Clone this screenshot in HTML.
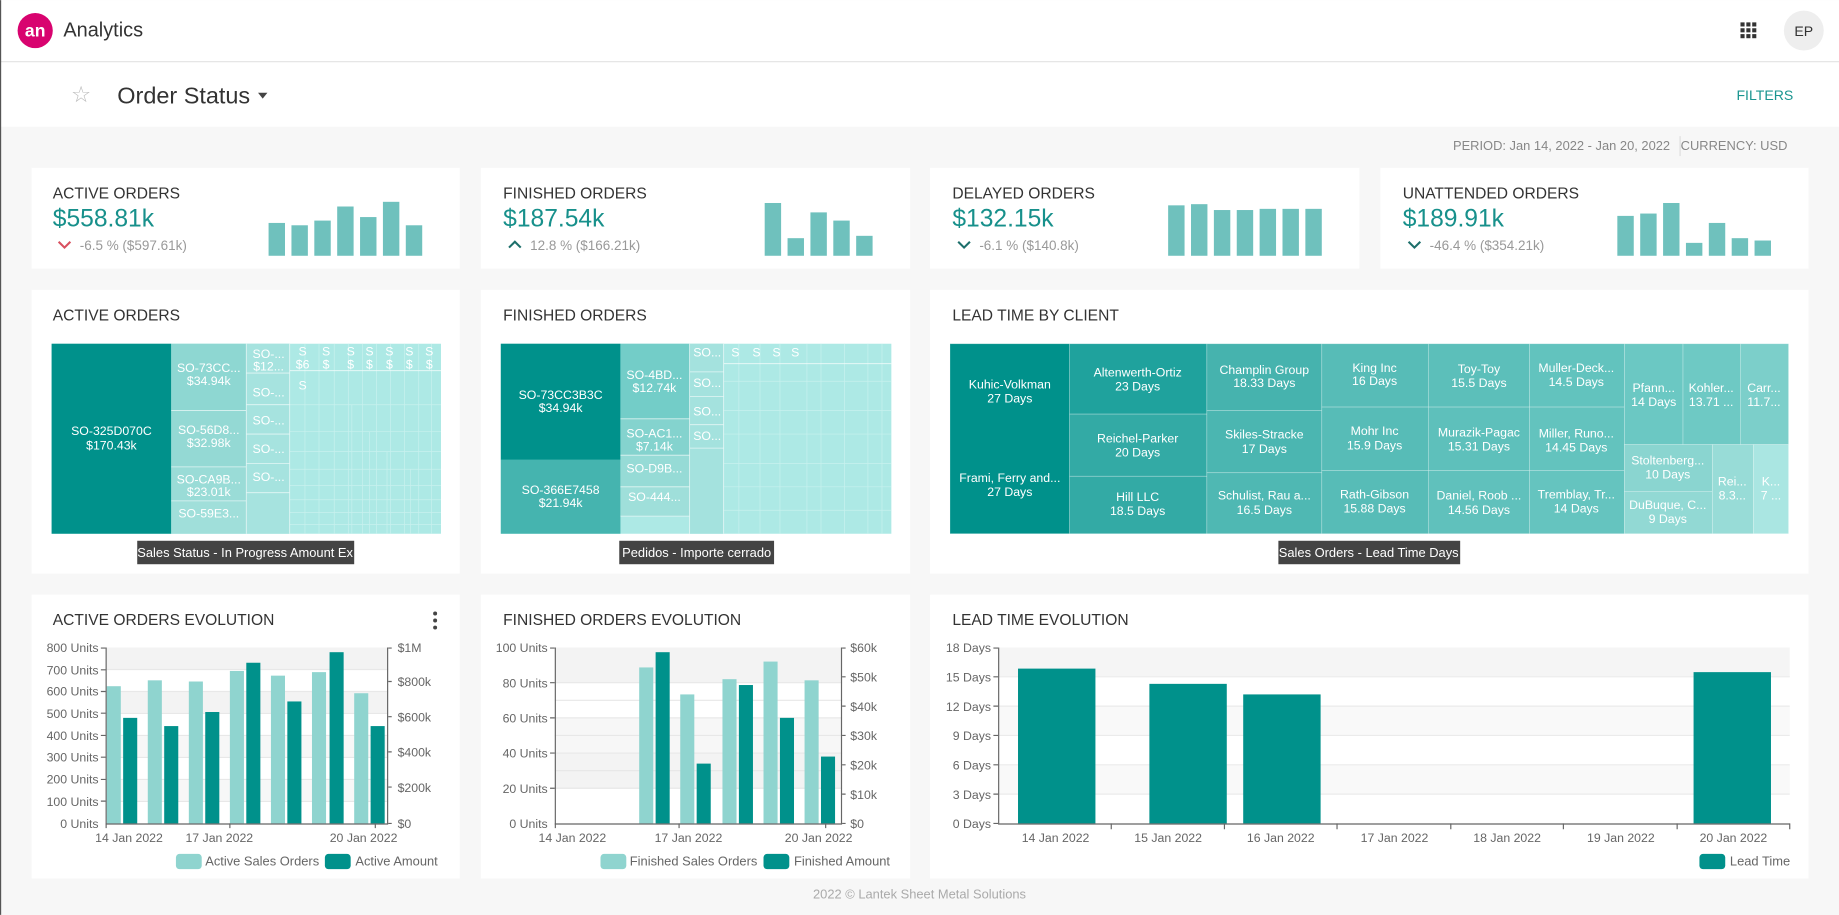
<!DOCTYPE html>
<html><head><meta charset="utf-8"><style>
html,body{margin:0;padding:0;background:#f7f7f7;overflow:hidden}
svg{display:block}
text{font-family:"Liberation Sans",sans-serif}
</style></head><body>
<svg width="1839" height="915" viewBox="0 0 1568 780" xmlns="http://www.w3.org/2000/svg">
<rect x="0" y="0" width="1568" height="780" fill="#f7f7f7"/>
<!-- header -->
<rect x="0" y="0" width="1568" height="108" fill="#fff"/>
<line x1="0" y1="52.5" x2="1568" y2="52.5" stroke="#e2e2e2"/>
<line x1="0.5" y1="0" x2="0.5" y2="780" stroke="#555"/>
<circle cx="30" cy="26" r="15" fill="#d8036f"/>
<text x="30" y="31" font-size="15" fill="#fff" text-anchor="middle" font-weight="bold">an</text>
<text x="54" y="31" font-size="17" fill="#333">Analytics</text>
<g fill="#333">
<rect x="1484" y="19" width="3.5" height="3.5"/><rect x="1489" y="19" width="3.5" height="3.5"/><rect x="1494" y="19" width="3.5" height="3.5"/>
<rect x="1484" y="24" width="3.5" height="3.5"/><rect x="1489" y="24" width="3.5" height="3.5"/><rect x="1494" y="24" width="3.5" height="3.5"/>
<rect x="1484" y="29" width="3.5" height="3.5"/><rect x="1489" y="29" width="3.5" height="3.5"/><rect x="1494" y="29" width="3.5" height="3.5"/>
</g>
<circle cx="1538" cy="26" r="17" fill="#eeeeee"/>
<text x="1538" y="30.5" font-size="12" fill="#333" text-anchor="middle">EP</text>
<text x="69" y="87" font-size="19" fill="#bbb" text-anchor="middle">☆</text>
<text x="100" y="88" font-size="20" fill="#333">Order Status</text>
<path d="M220 79 L228 79 L224 84 Z" fill="#444"/>
<text x="1529" y="85" font-size="12" fill="#1a9590" text-anchor="end">FILTERS</text>
<text x="1424" y="128" font-size="11" fill="#888" text-anchor="end">PERIOD: Jan 14, 2022 - Jan 20, 2022</text>
<line x1="1432.5" y1="116" x2="1432.5" y2="133" stroke="#ddd"/>
<text x="1524" y="128" font-size="11" fill="#888" text-anchor="end">CURRENCY: USD</text>

<!-- KPI cards -->
<g>
<rect x="27" y="143" width="365" height="86" fill="#fff"/>
<rect x="410" y="143" width="366" height="86" fill="#fff"/>
<rect x="793" y="143" width="366" height="86" fill="#fff"/>
<rect x="1177" y="143" width="365" height="86" fill="#fff"/>
<g font-size="13.3" fill="#333">
<text x="45" y="169">ACTIVE ORDERS</text><text x="429" y="169">FINISHED ORDERS</text>
<text x="812" y="169">DELAYED ORDERS</text><text x="1196" y="169">UNATTENDED ORDERS</text></g>
<g font-size="21" fill="#17908b">
<text x="45" y="193">$558.81k</text><text x="429" y="193">$187.54k</text>
<text x="812" y="193">$132.15k</text><text x="1196" y="193">$189.91k</text></g>
<g font-size="11.5" fill="#999">
<text x="68" y="213">-6.5 % ($597.61k)</text><text x="452" y="213">12.8 % ($166.21k)</text>
<text x="835" y="213">-6.1 % ($140.8k)</text><text x="1219" y="213">-46.4 % ($354.21k)</text></g>
<g fill="none" stroke-width="1.8">
<path d="M50 206 L55 211 L60 206" stroke="#d9505f"/>
<path d="M434 211 L439 206 L444 211" stroke="#1d6f6b"/>
<path d="M817 206 L822 211 L827 206" stroke="#1d6f6b"/>
<path d="M1201 206 L1206 211 L1211 206" stroke="#1d6f6b"/></g>
<g fill="#6fc1bd">
<rect x="229" y="190" width="14" height="28"/><rect x="248.5" y="192" width="14" height="26"/><rect x="268" y="188" width="14" height="30"/><rect x="287.5" y="176" width="14" height="42"/><rect x="307" y="185" width="14" height="33"/><rect x="326.5" y="172" width="14" height="46"/><rect x="346" y="192" width="14" height="26"/>
<rect x="652" y="173" width="14" height="45"/><rect x="671.5" y="203" width="14" height="15"/><rect x="691" y="181" width="14" height="37"/><rect x="710.5" y="188" width="14" height="30"/><rect x="730" y="201" width="14" height="17"/>
<rect x="996" y="175" width="14" height="43"/><rect x="1015.5" y="174" width="14" height="44"/><rect x="1035" y="179" width="14" height="39"/><rect x="1054.5" y="179" width="14" height="39"/><rect x="1074" y="178" width="14" height="40"/><rect x="1093.5" y="178" width="14" height="40"/><rect x="1113" y="178" width="14" height="40"/>
<rect x="1379" y="184" width="14" height="34"/><rect x="1398.5" y="182" width="14" height="36"/><rect x="1418" y="173" width="14" height="45"/><rect x="1437.5" y="207" width="14" height="11"/><rect x="1457" y="190" width="14" height="28"/><rect x="1476.5" y="203" width="14" height="15"/><rect x="1496" y="205" width="14" height="13"/>
</g>
</g>

<!-- row 2 cards -->
<rect x="27" y="247" width="365" height="242" fill="#fff"/>
<rect x="410" y="247" width="366" height="242" fill="#fff"/>
<rect x="793" y="247" width="749" height="242" fill="#fff"/>
<g font-size="13.3" fill="#333">
<text x="45" y="273">ACTIVE ORDERS</text><text x="429" y="273">FINISHED ORDERS</text><text x="812" y="273">LEAD TIME BY CLIENT</text></g>

<!-- Active treemap -->
<g>
<rect x="44" y="293" width="332" height="162" fill="#ade9e5"/>
<g stroke="#c8f1ee" stroke-width="0.6" fill="none">
<path d="M260 293V455M272 293V455M285 293V455M297 293V455M309 293V455M321 293V455M333 293V455M345 293V455M357 293V455M368 293V455"/>
<path d="M247 316H376M247 345H376M247 368H376M247 385H376M247 400H376M247 414H376M247 426H376M247 437H376M247 447H376"/>
<path d="M300 345V455M315 368V455M330 385V455M350 400V455"/>
</g>
<rect x="44" y="293" width="102" height="162" fill="#00918b"/>
<rect x="146" y="293" width="64" height="57" fill="#8ed7d2"/>
<rect x="146" y="350" width="64" height="48" fill="#94d9d4"/>
<rect x="146" y="398" width="64" height="29" fill="#9adcd7"/>
<rect x="146" y="427" width="64" height="28" fill="#a0dfda"/>
<rect x="210" y="293" width="37" height="162" fill="#a6e3df"/>
<g stroke="#fff" stroke-width="0.7" fill="none" opacity="0.7">
<path d="M146 350H210M146 398H210M146 427H210M210 293V455M247 293V455M210 318H247M210 345H247M210 370H247M210 395H247M210 420H247M247 316H376"/></g>
<g font-size="10.5" fill="#fff" text-anchor="middle">
<text x="95" y="371">SO-325D070C</text><text x="95" y="383">$170.43k</text>
<text x="178" y="317">SO-73CC...</text><text x="178" y="328">$34.94k</text>
<text x="178" y="370">SO-56D8...</text><text x="178" y="381">$32.98k</text>
<text x="178" y="412">SO-CA9B...</text><text x="178" y="423">$23.01k</text>
<text x="178" y="441">SO-59E3...</text>
<text x="229" y="305">SO-...</text><text x="229" y="316">$12...</text>
<text x="229" y="338">SO-...</text><text x="229" y="362">SO-...</text><text x="229" y="386">SO-...</text><text x="229" y="410">SO-...</text>
<text x="258" y="303">S</text><text x="258" y="314">$6</text>
<text x="278" y="303">S</text><text x="278" y="314">$</text><text x="299" y="303">S</text><text x="299" y="314">$</text><text x="315" y="303">S</text><text x="315" y="314">$</text><text x="332" y="303">S</text><text x="332" y="314">$</text><text x="349" y="303">S</text><text x="349" y="314">$</text><text x="366" y="303">S</text><text x="366" y="314">$</text>
<text x="258" y="332">S</text>
</g>
<rect x="117" y="461" width="185" height="20" fill="#444"/>
<text x="209" y="475" font-size="11" fill="#fff" text-anchor="middle">Sales Status - In Progress Amount Ex</text>
</g>

<!-- Finished treemap -->
<g>
<rect x="427" y="293" width="333" height="162" fill="#ade9e5"/>
<g stroke="#c8f1ee" stroke-width="0.6" fill="none">
<path d="M630 293V455M648 293V455M665 293V455M688 293V455M700 293V455M720 293V455M740 293V455M752 293V455"/>
<path d="M617 310H760M617 325H760M617 350H760M617 370H760M617 395H760M617 415H760M617 435H760"/>
</g>
<rect x="427" y="293" width="102" height="99" fill="#00918b"/>
<rect x="427" y="392" width="102" height="63" fill="#45b4af"/>
<rect x="529" y="293" width="59" height="64" fill="#73cdc8"/>
<rect x="529" y="357" width="59" height="31" fill="#84d3ce"/>
<rect x="529" y="388" width="59" height="27" fill="#96dbd6"/>
<rect x="529" y="415" width="59" height="25" fill="#9fdfda"/>
<rect x="588" y="293" width="29" height="162" fill="#a4e2de"/>
<g stroke="#fff" stroke-width="0.7" fill="none" opacity="0.7">
<path d="M529 357H588M529 388H588M529 415H588M529 440H588M588 293V455M617 293V455M588 317H617M588 338H617M588 362H617M588 382H617M617 310H760"/></g>
<g font-size="10.5" fill="#fff" text-anchor="middle">
<text x="478" y="340">SO-73CC3B3C</text><text x="478" y="351">$34.94k</text>
<text x="478" y="421">SO-366E7458</text><text x="478" y="432">$21.94k</text>
<text x="558" y="323">SO-4BD...</text><text x="558" y="334">$12.74k</text>
<text x="558" y="373">SO-AC1...</text><text x="558" y="384">$7.14k</text>
<text x="558" y="403">SO-D9B...</text><text x="558" y="427">SO-444...</text>
<text x="603" y="304">SO...</text><text x="603" y="330">SO...</text><text x="603" y="354">SO...</text><text x="603" y="375">SO...</text>
<text x="627" y="304">S</text><text x="645" y="304">S</text><text x="662" y="304">S</text><text x="678" y="304">S</text>
</g>
<rect x="528" y="461" width="132" height="20" fill="#444"/>
<text x="594" y="475" font-size="11" fill="#fff" text-anchor="middle">Pedidos - Importe cerrado</text>
</g>

<!-- Lead time treemap -->
<g stroke="#fff" stroke-width="0.6" stroke-opacity="0.35">
<rect x="810" y="293" width="102" height="162" fill="#00918b"/>
<rect x="912" y="293" width="117" height="60" fill="#1fa29d"/>
<rect x="912" y="353" width="117" height="53" fill="#33aaa5"/>
<rect x="912" y="406" width="117" height="49" fill="#33aaa5"/>
<rect x="1029" y="293" width="98" height="57" fill="#46b3ae"/>
<rect x="1029" y="350" width="98" height="53" fill="#4bb6b1"/>
<rect x="1029" y="403" width="98" height="52" fill="#4fb8b3"/>
<rect x="1127" y="293" width="91" height="54" fill="#57bcb7"/>
<rect x="1127" y="347" width="91" height="54" fill="#57bcb7"/>
<rect x="1127" y="401" width="91" height="54" fill="#57bcb7"/>
<rect x="1218" y="293" width="86" height="54" fill="#5cbfba"/>
<rect x="1218" y="347" width="86" height="54" fill="#5ec0bb"/>
<rect x="1218" y="401" width="86" height="54" fill="#60c1bc"/>
<rect x="1304" y="293" width="81" height="54" fill="#62c3be"/>
<rect x="1304" y="347" width="81" height="54" fill="#63c3be"/>
<rect x="1304" y="401" width="81" height="54" fill="#65c4bf"/>
<rect x="1385" y="293" width="50" height="86" fill="#6bc8c3"/>
<rect x="1435" y="293" width="49" height="86" fill="#6ec9c4"/>
<rect x="1484" y="293" width="41" height="86" fill="#7ccfca"/>
<rect x="1385" y="379" width="75" height="40" fill="#8ad5d0"/>
<rect x="1385" y="419" width="75" height="36" fill="#92d9d4"/>
<rect x="1460" y="379" width="35" height="76" fill="#98dcd7"/>
<rect x="1495" y="379" width="30" height="76" fill="#aae6e2"/>
</g>
<g font-size="10.5" fill="#fff" text-anchor="middle">
<text x="861" y="331">Kuhic-Volkman</text><text x="861" y="343">27 Days</text>
<text x="861" y="411">Frami, Ferry and...</text><text x="861" y="423">27 Days</text>
<text x="970" y="321">Altenwerth-Ortiz</text><text x="970" y="333">23 Days</text>
<text x="970" y="377">Reichel-Parker</text><text x="970" y="389">20 Days</text>
<text x="970" y="427">Hill LLC</text><text x="970" y="439">18.5 Days</text>
<text x="1078" y="319">Champlin Group</text><text x="1078" y="330">18.33 Days</text>
<text x="1078" y="374">Skiles-Stracke</text><text x="1078" y="386">17 Days</text>
<text x="1078" y="426">Schulist, Rau a...</text><text x="1078" y="438">16.5 Days</text>
<text x="1172" y="317">King Inc</text><text x="1172" y="328">16 Days</text>
<text x="1172" y="371">Mohr Inc</text><text x="1172" y="383">15.9 Days</text>
<text x="1172" y="425">Rath-Gibson</text><text x="1172" y="437">15.88 Days</text>
<text x="1261" y="318">Toy-Toy</text><text x="1261" y="330">15.5 Days</text>
<text x="1261" y="372">Murazik-Pagac</text><text x="1261" y="384">15.31 Days</text>
<text x="1261" y="426">Daniel, Roob ...</text><text x="1261" y="438">14.56 Days</text>
<text x="1344" y="317">Muller-Deck...</text><text x="1344" y="329">14.5 Days</text>
<text x="1344" y="373">Miller, Runo...</text><text x="1344" y="385">14.45 Days</text>
<text x="1344" y="425">Tremblay, Tr...</text><text x="1344" y="437">14 Days</text>
<text x="1410" y="334">Pfann...</text><text x="1410" y="346">14 Days</text>
<text x="1459" y="334">Kohler...</text><text x="1459" y="346">13.71 ...</text>
<text x="1504" y="334">Carr...</text><text x="1504" y="346">11.7...</text>
<text x="1422" y="396">Stoltenberg...</text><text x="1422" y="408">10 Days</text>
<text x="1422" y="434">DuBuque, C...</text><text x="1422" y="446">9 Days</text>
<text x="1477" y="414">Rei...</text><text x="1477" y="426">8.3...</text>
<text x="1510" y="414">K...</text><text x="1510" y="426">7 ...</text>
</g>
<rect x="1090" y="461" width="155" height="20" fill="#444"/>
<text x="1167" y="475" font-size="11" fill="#fff" text-anchor="middle">Sales Orders - Lead Time Days</text>

<!-- row 3 cards -->
<rect x="27" y="507" width="365" height="242" fill="#fff"/>
<rect x="410" y="507" width="366" height="242" fill="#fff"/>
<rect x="793" y="507" width="749" height="242" fill="#fff"/>
<g font-size="13.3" fill="#333">
<text x="45" y="533">ACTIVE ORDERS EVOLUTION</text><text x="429" y="533">FINISHED ORDERS EVOLUTION</text><text x="812" y="533">LEAD TIME EVOLUTION</text></g>
<g fill="#444"><circle cx="371" cy="523" r="1.7"/><circle cx="371" cy="529" r="1.7"/><circle cx="371" cy="535" r="1.7"/></g>

<!-- Active chart -->
<g>
<rect x="90" y="552" width="241" height="18.75" fill="#f3f3f3"/>
<rect x="90" y="589.5" width="241" height="18.75" fill="#f3f3f3"/>
<rect x="90" y="627" width="241" height="18.75" fill="#f7f7f7"/>
<rect x="90" y="664.5" width="241" height="18.75" fill="#f7f7f7"/>
<g stroke="#e8e8e8"><path d="M90 570.75H331M90 589.5H331M90 608.25H331M90 627H331M90 645.75H331M90 664.5H331M90 683.25H331"/></g>
<g fill="#8fd4cf">
<rect x="91" y="585" width="12" height="117"/><rect x="126" y="580" width="12" height="122"/><rect x="161" y="581" width="12" height="121"/><rect x="196" y="572" width="12" height="130"/><rect x="231" y="576" width="12" height="126"/><rect x="266" y="573" width="12" height="129"/><rect x="302" y="591" width="12" height="111"/></g>
<g fill="#00918b">
<rect x="105" y="612" width="12" height="90"/><rect x="140" y="619" width="12" height="83"/><rect x="175" y="607" width="12" height="95"/><rect x="210" y="565" width="12" height="137"/><rect x="245" y="598" width="12" height="104"/><rect x="281" y="556" width="12" height="146"/><rect x="316" y="619" width="12" height="83"/></g>
<g stroke="#666" fill="none"><path d="M90.5 552V702.5H331M330.5 552V702.5"/>
<path d="M86 552.5H90M86 571H90M86 589.5H90M86 608H90M86 627H90M86 645.5H90M86 664.5H90M86 683H90M331 552.5H334M331 581H334M331 611H334M331 641H334M331 671H334M331 702H334M90.5 702V706M196 702V706M320 702V706"/></g>
<g font-size="10.5" fill="#666" text-anchor="end">
<text x="84" y="556">800 Units</text><text x="84" y="575">700 Units</text><text x="84" y="593">600 Units</text><text x="84" y="612">500 Units</text><text x="84" y="631">400 Units</text><text x="84" y="649">300 Units</text><text x="84" y="668">200 Units</text><text x="84" y="687">100 Units</text><text x="84" y="706">0 Units</text></g>
<g font-size="10.5" fill="#666">
<text x="339" y="556">$1M</text><text x="339" y="585">$800k</text><text x="339" y="615">$600k</text><text x="339" y="645">$400k</text><text x="339" y="675">$200k</text><text x="339" y="706">$0</text></g>
<g font-size="10.5" fill="#666" text-anchor="middle">
<text x="110" y="718">14 Jan 2022</text><text x="187" y="718">17 Jan 2022</text><text x="310" y="718">20 Jan 2022</text></g>
<rect x="150" y="728" width="22" height="13" rx="3" fill="#8fd4cf"/><text x="175" y="738" font-size="11" fill="#666">Active Sales Orders</text>
<rect x="277" y="728" width="22" height="13" rx="3" fill="#00918b"/><text x="303" y="738" font-size="11" fill="#666">Active Amount</text>
</g>

<!-- Finished chart -->
<g>
<rect x="473" y="552" width="245" height="30" fill="#f3f3f3"/>
<rect x="473" y="612" width="245" height="30" fill="#f7f7f7"/>
<rect x="473" y="642" width="245" height="30" fill="#f3f3f3"/>
<g stroke="#e8e8e8"><path d="M473 582H718M473 612H718M473 642H718M473 672H718M473 597H718M473 627H718M473 657H718"/></g>
<g fill="#8fd4cf">
<rect x="545" y="569" width="12" height="133"/><rect x="580" y="592" width="12" height="110"/><rect x="616" y="579" width="12" height="123"/><rect x="651" y="564" width="12" height="138"/><rect x="686" y="580" width="12" height="122"/></g>
<g fill="#00918b">
<rect x="559" y="556" width="12" height="146"/><rect x="594" y="651" width="12" height="51"/><rect x="630" y="584" width="12" height="118"/><rect x="665" y="612" width="12" height="90"/><rect x="700" y="645" width="12" height="57"/></g>
<g stroke="#666" fill="none"><path d="M473.5 552V702.5H718M717.5 552V702.5"/>
<path d="M469 552.5H473M469 582H473M469 612H473M469 642H473M469 672H473M718 552.5H721M718 577H721M718 602H721M718 627H721M718 652H721M718 677H721M718 702H721M473.5 702V706M579 702V706M704 702V706"/></g>
<g font-size="10.5" fill="#666" text-anchor="end">
<text x="467" y="556">100 Units</text><text x="467" y="586">80 Units</text><text x="467" y="616">60 Units</text><text x="467" y="646">40 Units</text><text x="467" y="676">20 Units</text><text x="467" y="706">0 Units</text></g>
<g font-size="10.5" fill="#666">
<text x="725" y="556">$60k</text><text x="725" y="581">$50k</text><text x="725" y="606">$40k</text><text x="725" y="631">$30k</text><text x="725" y="656">$20k</text><text x="725" y="681">$10k</text><text x="725" y="706">$0</text></g>
<g font-size="10.5" fill="#666" text-anchor="middle">
<text x="488" y="718">14 Jan 2022</text><text x="587" y="718">17 Jan 2022</text><text x="698" y="718">20 Jan 2022</text></g>
<rect x="512" y="728" width="22" height="13" rx="3" fill="#8fd4cf"/><text x="537" y="738" font-size="11" fill="#666">Finished Sales Orders</text>
<rect x="651" y="728" width="22" height="13" rx="3" fill="#00918b"/><text x="677" y="738" font-size="11" fill="#666">Finished Amount</text>
</g>

<!-- Lead time chart -->
<g>
<rect x="851" y="552" width="675" height="25" fill="#f5f5f5"/>
<rect x="851" y="602" width="675" height="25" fill="#f9f9f9"/>
<rect x="851" y="652" width="675" height="25" fill="#f9f9f9"/>
<g stroke="#ebebeb"><path d="M851 577H1526M851 602H1526M851 627H1526M851 652H1526M851 677H1526"/></g>
<g fill="#00918b">
<rect x="868" y="570" width="66" height="132"/><rect x="980" y="583" width="66" height="119"/><rect x="1060" y="592" width="66" height="110"/><rect x="1444" y="573" width="66" height="129"/></g>
<g stroke="#666" fill="none"><path d="M851.5 552V702.5H1526"/>
<path d="M847 552.5H851M847 577H851M847 602H851M847 627H851M847 652H851M847 677H851M847 702H851M947.5 702V707M1044 702V707M1140 702V707M1237 702V707M1333 702V707M1430 702V707M1526 702V707"/></g>
<g font-size="10.5" fill="#666" text-anchor="end">
<text x="845" y="556">18 Days</text><text x="845" y="581">15 Days</text><text x="845" y="606">12 Days</text><text x="845" y="631">9 Days</text><text x="845" y="656">6 Days</text><text x="845" y="681">3 Days</text><text x="845" y="706">0 Days</text></g>
<g font-size="10.5" fill="#666" text-anchor="middle">
<text x="900" y="718">14 Jan 2022</text><text x="996" y="718">15 Jan 2022</text><text x="1092" y="718">16 Jan 2022</text><text x="1189" y="718">17 Jan 2022</text><text x="1285" y="718">18 Jan 2022</text><text x="1382" y="718">19 Jan 2022</text><text x="1478" y="718">20 Jan 2022</text></g>
<rect x="1449" y="728" width="22" height="13" rx="3" fill="#00918b"/><text x="1475" y="738" font-size="11" fill="#666">Lead Time</text>
</g>

<text x="784" y="766" font-size="11" fill="#aaa" text-anchor="middle">2022 © Lantek Sheet Metal Solutions</text>
</svg>
</body></html>
